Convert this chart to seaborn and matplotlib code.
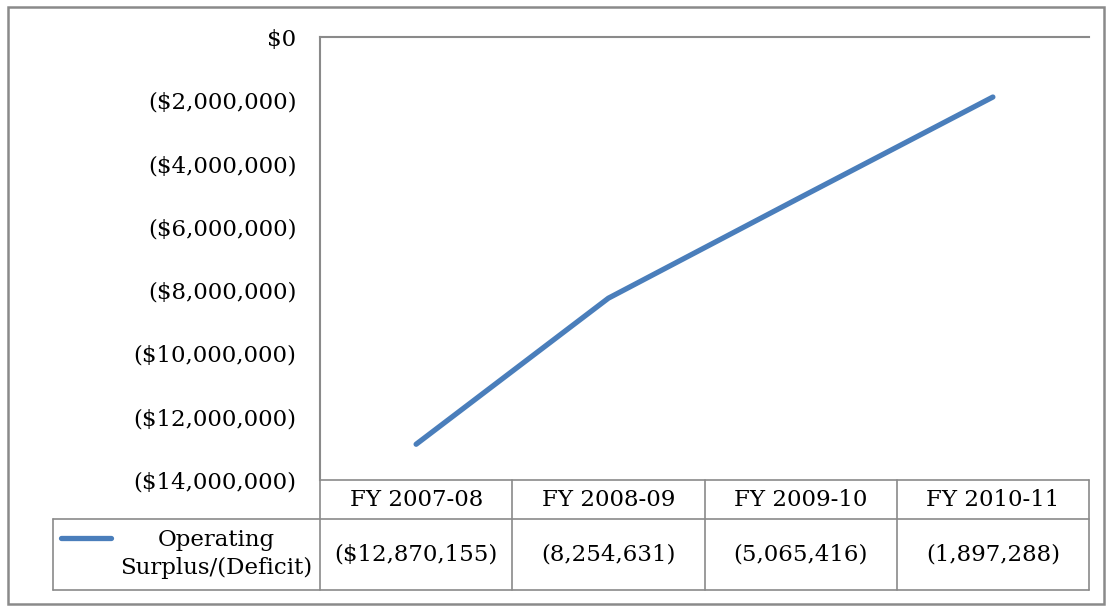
import matplotlib
matplotlib.use("Agg")
import matplotlib.pyplot as plt
import seaborn as sns
import pandas as pd
from matplotlib.lines import Line2D
from matplotlib.patches import Rectangle

# ---- data ----
categories = ["FY 2007-08", "FY 2008-09", "FY 2009-10", "FY 2010-11"]
values = [-12870155, -8254631, -5065416, -1897288]
value_labels = ["($12,870,155)", "(8,254,631)", "(5,065,416)", "(1,897,288)"]
series_name = "Operating\nSurplus/(Deficit)"
y_ticks = [0, -2000000, -4000000, -6000000, -8000000, -10000000, -12000000, -14000000]

sns.set_theme(style="white")
plt.rcParams["font.family"] = ["DejaVu Serif"]
plt.rcParams["text.color"] = "black"

W, H = 1106, 606
fig = plt.figure(figsize=(W / 100, H / 100), dpi=100)
fig.patch.set_facecolor("white")

def fx(px):
    return px / W

def fy(py):
    return 1 - py / H

GRAY = "#8a8a8a"
BLUE = "#4a7ebb"
FS = 16.5

# plot area
L, T, R, B = 320, 37, 1089, 480
ax = fig.add_axes([fx(L), fy(B), fx(R) - fx(L), fy(T) - fy(B)])
df = pd.DataFrame({"x": range(len(categories)), "v": values})
sns.lineplot(data=df, x="x", y="v", ax=ax, color=BLUE, linewidth=3.8,
             solid_capstyle="round", solid_joinstyle="round")
ax.set_xlim(-0.5, len(categories) - 0.5)
ax.set_ylim(y_ticks[-1], y_ticks[0])
ax.set_yticks(y_ticks)

def fmt(v):
    if v == 0:
        return "$0"
    return "(${:,.0f})".format(abs(v))

ax.set_yticklabels([fmt(v) for v in y_ticks], fontsize=FS, color="black")
ax.tick_params(axis="y", length=0, pad=17)
ax.set_xticks([])
ax.set_xlabel("")
ax.set_ylabel("")
for s in ["right", "bottom"]:
    ax.spines[s].set_visible(False)
ax.spines["left"].set_color(GRAY)
ax.spines["left"].set_linewidth(1.5)
ax.spines["top"].set_color(GRAY)
ax.spines["top"].set_linewidth(1.5)
ax.set_facecolor("none")

# overlay axes in pixel coordinates for the data table and border
ov = fig.add_axes([0, 0, 1, 1], zorder=-1)
ov.set_xlim(0, W)
ov.set_ylim(H, 0)
ov.axis("off")

ov.add_patch(Rectangle((8, 7), 1096, 597, fill=False, edgecolor=GRAY, linewidth=1.8))

hdr_top, hdr_bot, row_bot = 480, 519, 590
leg_left = 53
lw_t = 1.2
col_w = (R - L) / len(categories)
col_edges = [L + i * col_w for i in range(len(categories) + 1)]

ov.add_line(Line2D([L, R], [hdr_top, hdr_top], color=GRAY, lw=lw_t))
ov.add_line(Line2D([leg_left, R], [hdr_bot, hdr_bot], color=GRAY, lw=lw_t))
ov.add_line(Line2D([leg_left, R], [row_bot, row_bot], color=GRAY, lw=lw_t))
ov.add_line(Line2D([leg_left, leg_left], [hdr_bot, row_bot], color=GRAY, lw=lw_t))
for xe in col_edges:
    ov.add_line(Line2D([xe, xe], [hdr_top, row_bot], color=GRAY, lw=lw_t))

for i, (c, vl) in enumerate(zip(categories, value_labels)):
    cx = L + (i + 0.5) * col_w
    ov.text(cx, (hdr_top + hdr_bot) / 2 + 1, c, ha="center", va="center",
            fontsize=FS, color="black")
    ov.text(cx, (hdr_bot + row_bot) / 2, vl, ha="center", va="center",
            fontsize=FS, color="black")

# legend key
ov.add_line(Line2D([61, 111], [538, 538], color=BLUE, lw=3.8, solid_capstyle="round"))
ov.text(216, 554, series_name, ha="center", va="center", fontsize=FS,
        multialignment="center", linespacing=1.3, color="black")

fig.savefig("out.png", dpi=100, facecolor="white")
